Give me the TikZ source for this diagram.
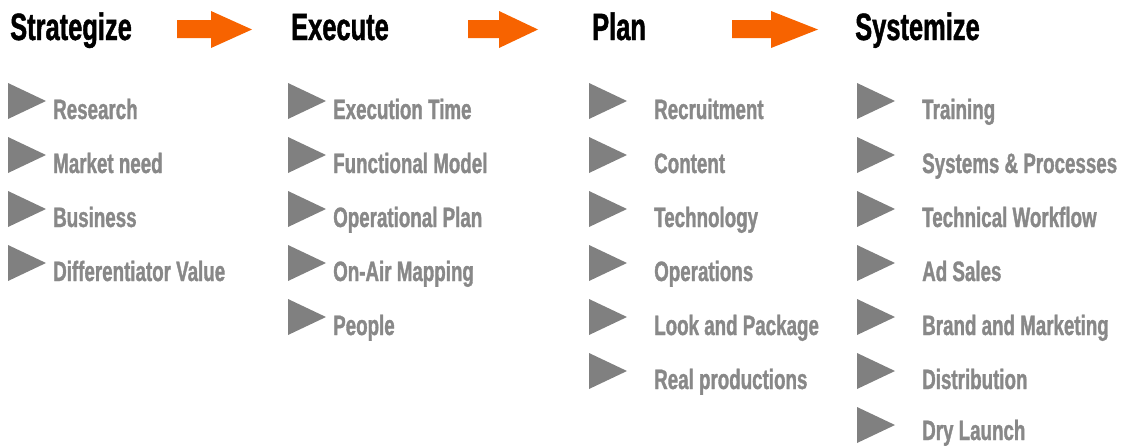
\documentclass[tikz,border=0pt]{standalone}
\usepackage{fontspec}
\newfontfamily\impactfont{Liberation Sans}[UprightFont={* Bold}, FakeStretch=0.67, FakeBold=1.2]
\usetikzlibrary{positioning}
\definecolor{flowred}{RGB}{247,99,0}
\definecolor{bulletgray}{RGB}{128,128,128}
\definecolor{itemgray}{RGB}{136,136,136}

\begin{document}
\begin{tikzpicture}
[x=1pt, y=-1pt,
 head/.style={anchor=base west, inner sep=0pt, font=\impactfont\fontsize{38}{40}\selectfont},
 item/.style={anchor=base west, inner sep=0pt, text=itemgray, font=\impactfont\fontsize{28}{30}\selectfont},
 bullet/.style={fill=bulletgray},
 flow/.style={fill=flowred}]

\useasboundingbox (0,0) rectangle (1121,445);

% Headings:
\node[head] (strat) at (10,40)  {Strategize};
\node[head] (exec)  at (291,40) {Execute};
\node[head] (plan)  at (592,40) {Plan};
\node[head] (syst)  at (855,40) {Systemize};

% Orange arrows between headings:
\fill[flow] (177,20) -- (211,20) -- (211,11) -- (252,29.5) -- (211,48) -- (211,38) -- (177,38) -- cycle;
\fill[flow] (468,20) -- (499,20) -- (499,11) -- (538,29.5) -- (499,48) -- (499,38) -- (468,38) -- cycle;
\fill[flow] (732,20) -- (771,20) -- (771,11) -- (818,29.5) -- (771,48) -- (771,38) -- (732,38) -- cycle;

% Bullets:
\foreach \y in {83,137,191,245}
  \fill[bullet, shift={(8,\y)}] (0,0) -- (38,18) -- (0,36) -- cycle;
\foreach \y in {83,137,191,245,299}
  \fill[bullet, shift={(288,\y)}] (0,0) -- (38,18) -- (0,36) -- cycle;
\foreach \y in {83,137,191,245,299,353}
  \fill[bullet, shift={(589,\y)}] (0,0) -- (38,18) -- (0,36) -- cycle;
\foreach \y in {83,137,191,245,299,353,407}
  \fill[bullet, shift={(857,\y)}] (0,0) -- (38,18) -- (0,36) -- cycle;

% Strategize items:
\node[item] (res)  at (53,119) {Research};
\node[item] (mkt)  at (53,173) {Market need};
\node[item] (bus)  at (53,227) {Business};
\node[item] (diff) at (53,281) {Differentiator Value};

% Execute items:
\node[item] (time)   at (333,119) {Execution Time};
\node[item] (model)  at (333,173) {Functional Model};
\node[item] (oplan)  at (333,227) {Operational Plan};
\node[item] (onair)  at (333,281) {On-Air Mapping};
\node[item] (people) at (333,335) {People};

% Plan items:
\node[item] (recr) at (654,119) {Recruitment};
\node[item] (cont) at (654,173) {Content};
\node[item] (tech) at (654,227) {Technology};
\node[item] (ops)  at (654,281) {Operations};
\node[item] (look) at (654,335) {Look and Package};
\node[item] (prod) at (654,389) {Real productions};

% Systemize items:
\node[item] (train) at (922,119) {Training};
\node[item] (sysp)  at (922,173) {Systems \& Processes};
\node[item] (flow)  at (922,227) {Technical Workflow};
\node[item] (ads)   at (922,281) {Ad Sales};
\node[item] (brand) at (922,335) {Brand and Marketing};
\node[item] (dist)  at (922,389) {Distribution};
\node[item] (dry)   at (922,440) {Dry Launch};

\end{tikzpicture}
\end{document}
